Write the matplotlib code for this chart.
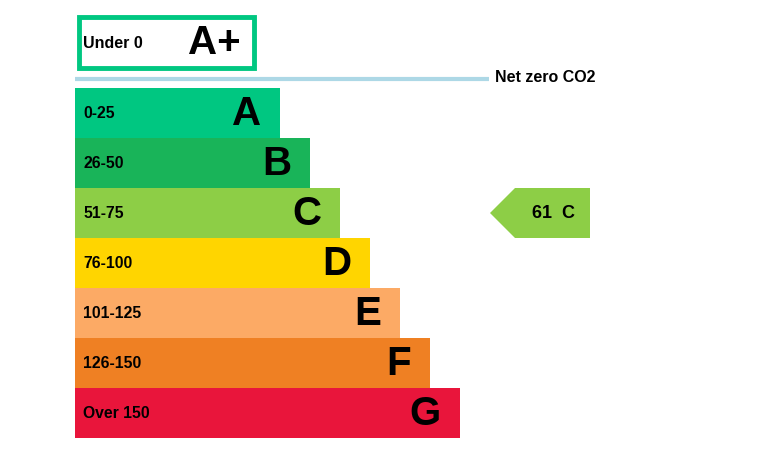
import matplotlib.pyplot as plt
from matplotlib.patches import Rectangle, Polygon

# данные шкалы
bands = ['A', 'B', 'C', 'D', 'E', 'F', 'G']
ranges = ['0-25', '26-50', '51-75', '76-100', '101-125', '126-150', 'Over 150']
colors = ['#00c781', '#19b459', '#8dce46', '#ffd500', '#fcaa65', '#ef8023', '#e9153b']
top_band = 'A+'
top_range = 'Under 0'
current_score = 61
current_band = 'C'
line_label = 'Net zero CO2'

W, H = 774, 458
plt.rcParams['font.family'] = ['Liberation Sans', 'DejaVu Sans']

fig = plt.figure(figsize=(W / 100, H / 100), dpi=100)
ax = fig.add_axes([0, 0, 1, 1])
ax.set_xlim(0, W)
ax.set_ylim(H, 0)
ax.axis('off')

x0 = 75
row_h = 50
y0 = 88
lengths = [205 + 30 * i for i in range(len(bands))]

# полосы рейтинга
ys = [y0 + row_h * i for i in range(len(bands))]
ax.barh(ys, lengths, height=row_h, left=x0, color=colors, align='edge')
for y, ln, b, r in zip(ys, lengths, bands, ranges):
    ax.text(x0 + 8, y + row_h / 2, r, fontsize=11.3, fontweight='bold',
            va='center', ha='left')
    ax.text(x0 + ln - 19, y + row_h / 2 + 1, b, fontsize=29, fontweight='bold',
            va='center', ha='right')

# блок A+
ax.add_patch(Rectangle((79, 17), 175, 51, fill=False, edgecolor=colors[0], lw=3.5))
ax.text(83, 43, top_range, fontsize=11.5, fontweight='bold', va='center', ha='left')
ax.text(241, 43, top_band, fontsize=29, fontweight='bold', va='center', ha='right')

# линия net zero
ax.plot([75, 489], [78.5, 78.5], color='#add8e6', lw=3, solid_capstyle='butt')
ax.text(495, 78, line_label, fontsize=11.5, fontweight='bold', va='center', ha='left')

# стрелка текущего значения
idx = bands.index(current_band)
ay = ys[idx]
ax.add_patch(Polygon([(490, ay + row_h / 2), (515, ay), (590, ay),
                      (590, ay + row_h), (515, ay + row_h)],
                     closed=True, color=colors[idx], lw=0))
ax.text(554, ay + row_h / 2, f'{current_score}  {current_band}', fontsize=13,
        fontweight='bold', va='center', ha='center')

fig.savefig('out.png', dpi=100)
